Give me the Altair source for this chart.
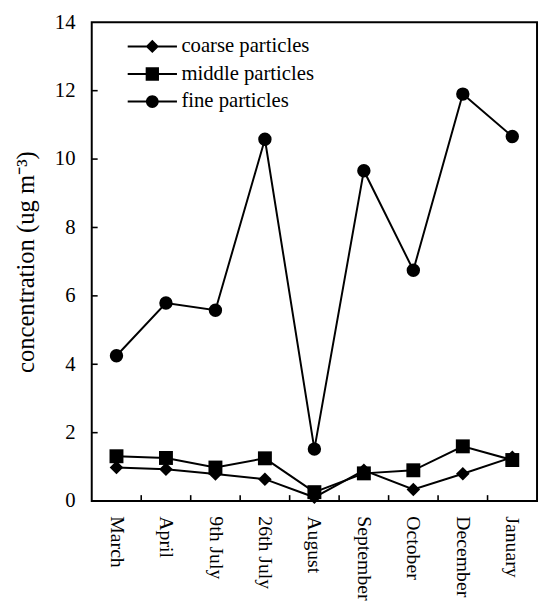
import altair as alt
import pandas as pd

months = ["March", "April", "9th July", "26th July", "August",
          "September", "October", "December", "January"]
coarse = [0.98, 0.93, 0.79, 0.64, 0.11, 0.90, 0.34, 0.80, 1.28]
middle = [1.31, 1.26, 0.98, 1.25, 0.26, 0.81, 0.90, 1.60, 1.20]
fine = [4.25, 5.79, 5.58, 10.58, 1.52, 9.66, 6.75, 11.90, 10.66]
series = ["coarse particles", "middle particles", "fine particles"]
shapes = ["diamond", "square", "circle"]
sizes = [190, 200, 185]
y_ticks = [0, 2, 4, 6, 8, 10, 12, 14]

rows = []
for s, vals in zip(series, [coarse, middle, fine]):
    for m, v in zip(months, vals):
        rows.append({"month": m, "value": v, "series": s})
df = pd.DataFrame(rows)

font = "Liberation Serif"
xscale = alt.Scale(type="band", domain=months, paddingInner=0, paddingOuter=0)
yscale = alt.Scale(domain=[0, 14], nice=False, zero=True)

base = alt.Chart(df)

lines = base.mark_line(color="black", strokeWidth=2).encode(
    x=alt.X("month:N", scale=xscale, sort=months, title=None,
            axis=alt.Axis(orient="bottom", labelAngle=90, labelFont=font, labelFontSize=20,
                          labelColor="black", ticks=False, domain=False,
                          labelPadding=15, grid=False)),
    y=alt.Y("value:Q", scale=yscale,
            title="concentration (ug m\u207b\u00b3)",
            axis=alt.Axis(orient="left", values=y_ticks, labelFont=font, labelFontSize=21,
                          labelColor="black", ticks=False, domain=False, labelPadding=17,
                          titleFont=font, titleFontSize=25, titleFontWeight="normal",
                          titleColor="black", titlePadding=16, grid=False)),
    detail="series:N",
)

point_layers = []
for s, shp, sz in zip(series, shapes, sizes):
    point_layers.append(
        base.transform_filter(alt.datum.series == s).mark_point(
            filled=True, color="black", opacity=1, shape=shp, size=sz
        ).encode(
            x=alt.X("month:N", scale=xscale, sort=months),
            y=alt.Y("value:Q", scale=yscale),
        )
    )

# inward ticks
ytick_df = pd.DataFrame({"value": y_ticks[1:-1]})
yticks = alt.Chart(ytick_df).mark_rule(color="black", strokeWidth=1.6).encode(
    y=alt.Y("value:Q", scale=yscale),
    x=alt.value(0), x2=alt.value(6),
)
xtick_df = pd.DataFrame({"month": months[1:]})
xticks = alt.Chart(xtick_df).mark_rule(color="black", strokeWidth=1.6).encode(
    x=alt.X("month:N", scale=xscale, sort=months, bandPosition=0),
    y=alt.value(480), y2=alt.value(486),
)

# legend symbols: thin filled bar (the line) plus the marker, all clockwise
legend_paths = [
    "M-5,-0.2H5V0.2H-5ZM0,-1.35L1.35,0L0,1.35L-1.35,0Z",
    "M-5,-0.2H5V0.2H-5ZM-1.35,-1.35H1.35V1.35H-1.35Z",
    "M-5,-0.2H5V0.2H-5ZM1.3,0A1.3,1.3,0,1,1,-1.3,0A1.3,1.3,0,1,1,1.3,0Z",
]

legend_layer = base.mark_point(filled=True, color="black", opacity=0).encode(
    x=alt.X("month:N", scale=xscale, sort=months),
    y=alt.Y("value:Q", scale=yscale),
    shape=alt.Shape("series:N", scale=alt.Scale(domain=series, range=legend_paths),
                    legend=alt.Legend(orient="none", legendX=51, legendY=14, title=None,
                                      labelFont=font, labelFontSize=21, labelColor="black",
                                      symbolSize=100, symbolFillColor="black",
                                      symbolOpacity=1, rowPadding=6, labelOffset=19,
                                      padding=0)),
)

chart = alt.layer(lines, *point_layers, yticks, xticks, legend_layer).properties(
    width=452, height=486,
    autosize=alt.AutoSizeParams(type="none"),
    padding={"left": 85, "top": 10, "right": 2, "bottom": 100},
).configure_view(
    stroke="black", strokeWidth=2
).configure_axis(
    labelFont=font, titleFont=font, labelColor="black", titleColor="black", grid=False,
    titleFontWeight="normal"
)

chart.save("out.html", embed_options={"renderer": "svg", "actions": False})
